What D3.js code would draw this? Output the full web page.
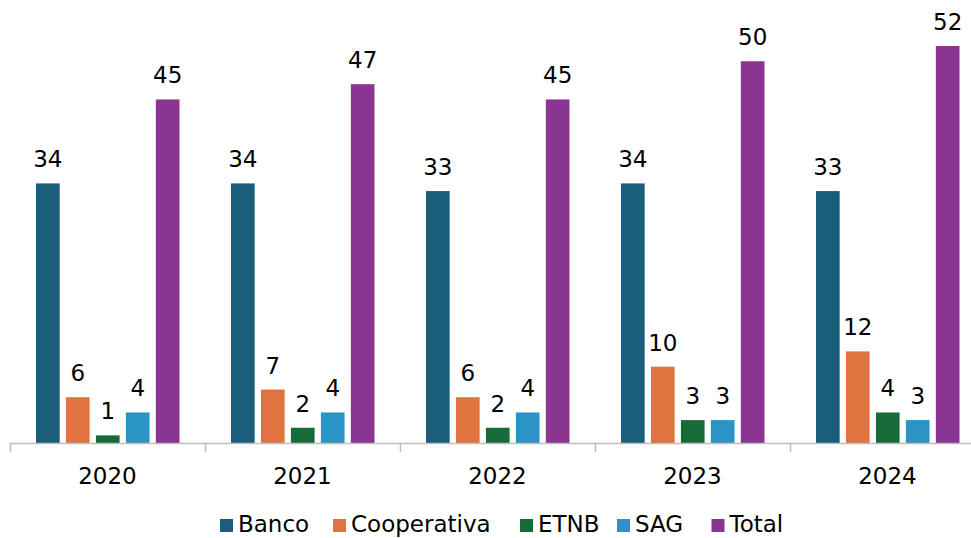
<!DOCTYPE html>
<html><head><meta charset="utf-8">
<script src="https://cdn.jsdelivr.net/npm/d3@7/dist/d3.min.js"></script>
<style>body{margin:0;background:#fff}svg{display:block}text{font-family:"DejaVu Sans",Verdana,sans-serif;fill:#000}</style>
</head><body><svg id="c" width="971" height="538"></svg>
<script>
const years = ["2020","2021","2022","2023","2024"];
const seriesNames = ["Banco","Cooperativa","ETNB","SAG","Total"];
const banco = [34,34,33,34,33];
const cooperativa = [6,7,6,10,12];
const etnb = [1,2,2,3,4];
const sag = [4,4,4,3,3];
const total = [45,47,45,50,52];
const colors = ["#1b5e7b","#e07340","#176b38","#2a94c6","#8b3592"];
const seriesVals = [banco,cooperativa,etnb,sag,total];

const svg = d3.select("#c");
const x0 = d3.scaleBand().domain(years).range([10,985]).padding(0);
const x1 = d3.scaleBand().domain(seriesNames).range([26,169.5]).paddingInner(0.21).paddingOuter(0);
const y = d3.scaleLinear().domain([0,52]).range([443,46]);

const g = svg.append("g");
years.forEach((yr,i)=>{
  seriesNames.forEach((s,j)=>{
    const v = seriesVals[j][i];
    const x = x0(yr)+x1(s);
    g.append("rect").attr("x",x).attr("y",y(v)).attr("width",x1.bandwidth()).attr("height",y(0)-y(v)).attr("fill",colors[j]);
    g.append("text").attr("x",x+x1.bandwidth()/2).attr("y",y(v)-16).attr("text-anchor","middle").attr("font-size",23).text(v);
  });
});

// axis
const ax = svg.append("g");
ax.append("line").attr("x1",10).attr("x2",971).attr("y1",443.5).attr("y2",443.5).attr("stroke","#bfbfbf").attr("stroke-width",1.5);
years.forEach(yr=>{
  const xt = Math.round(x0(yr))+0.5;
  ax.append("line").attr("x1",xt).attr("x2",xt).attr("y1",443).attr("y2",452).attr("stroke","#bfbfbf").attr("stroke-width",1.5);
  ax.append("text").attr("x",x0(yr)+x0.bandwidth()/2).attr("y",484).attr("text-anchor","middle").attr("font-size",23).text(yr);
});

// legend
const legX = [220,333,520,617,711.5];
seriesNames.forEach((s,j)=>{
  svg.append("rect").attr("x",legX[j]).attr("y",519).attr("width",13).attr("height",13).attr("fill",colors[j]);
  svg.append("text").attr("x",legX[j]+18).attr("y",532).attr("font-size",23).text(s);
});
</script></body></html>
